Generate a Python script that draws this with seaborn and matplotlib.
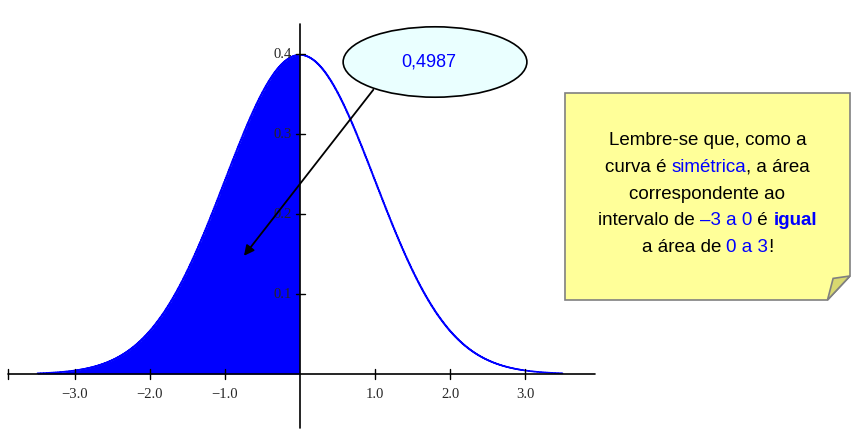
import numpy as np
import matplotlib.pyplot as plt
import seaborn as sns
from matplotlib.patches import Ellipse, Polygon
from matplotlib.offsetbox import TextArea, HPacker, VPacker, AnchoredOffsetbox

sns.set_theme(style="white")
plt.rcParams['font.family'] = ['Liberation Sans', 'DejaVu Sans']

# standard normal density
mean, sd = 0.0, 1.0
x_lo, x_hi = -3.5, 3.5
x_ticks = [-3.0, -2.0, -1.0, 1.0, 2.0, 3.0]
x_tick_labels = ['\u22123.0', '\u22122.0', '\u22121.0', '1.0', '2.0', '3.0']
y_ticks = [0.1, 0.2, 0.3, 0.4]
y_tick_labels = ['0.1', '0.2', '0.3', '0.4']
area_label = '0,4987'

xs = np.linspace(x_lo, x_hi, 700)
ys = np.exp(-0.5 * ((xs - mean) / sd) ** 2) / (sd * np.sqrt(2 * np.pi))

fig = plt.figure(figsize=(8.56, 4.29), dpi=100)
ax = fig.add_axes([0, 0, 1, 1])
ax.set_xlim(-4.0, 7.413)
ax.set_ylim(-0.06875, 0.4675)
ax.axis('off')

sns.lineplot(x=xs, y=ys, color='#0000ff', lw=1.2, ax=ax, drawstyle='steps-mid')
left = xs <= 0
ax.fill_between(xs[left], 0, ys[left], color='#0000ff', step='mid', lw=0)

# axes
ax.plot([-3.89, 3.93], [0, 0], color='black', lw=1.2)
ax.plot([0, 0], [-0.0675, 0.4375], color='black', lw=1.2)
for t, lab in zip(x_ticks, x_tick_labels):
    ax.plot([t, t], [-0.006, 0.006], color='black', lw=1)
    ax.text(t, -0.018, lab, ha='center', va='top', fontsize=10.5, family='Liberation Serif')
ax.plot([-3.89, -3.89], [-0.006, 0.006], color='black', lw=1)
for t, lab in zip(y_ticks, y_tick_labels):
    ax.plot([-0.06, 0.06], [t, t], color='black', lw=1)
    ax.text(-0.11, t, lab, ha='right', va='center', fontsize=10.5, family='Liberation Serif')

# callout ellipse and arrow
ax.add_patch(Ellipse((1.8, 0.39), 2.45, 0.088, facecolor='#eaffff', edgecolor='black', lw=1.2, zorder=5))
ax.text(1.72, 0.39, area_label, color='#0000ff', fontsize=13, ha='center', va='center', zorder=6)
ax.annotate('', xy=(-0.77, 0.145), xytext=(1.0, 0.358),
            arrowprops=dict(arrowstyle='-|>', color='black', lw=1.3, mutation_scale=15), zorder=6)

# note with folded corner
x0, x1 = 3.533, 7.333
y0, y1 = (374 - 300) / 800, (374 - 93) / 800
f = 0.3
ax.add_patch(Polygon([(x0, y0), (x0, y1), (x1, y1), (x1, y0 + f * 0.1), (x1 - f, y0)],
                     closed=True, facecolor='#ffff99', edgecolor='#808080', lw=1.2, zorder=5))
ax.add_patch(Polygon([(x1, y0 + f * 0.1), (x1 - f, y0), (x1 - f * 0.75, y0 + f * 0.1 * 0.9)],
                     closed=True, facecolor='#d8d870', edgecolor='#808080', lw=1.2, zorder=6))

blue = '#0000ff'
lines = [
    [('Lembre-se que, como a', 'black', 'normal')],
    [('curva é ', 'black', 'normal'), ('simétrica', blue, 'normal'), (', a área', 'black', 'normal')],
    [('correspondente ao', 'black', 'normal')],
    [('intervalo de ', 'black', 'normal'), ('\u20133 a 0', blue, 'normal'), (' é ', 'black', 'normal'), ('igual', blue, 'bold')],
    [('a área de ', 'black', 'normal'), ('0 a 3', blue, 'normal'), ('!', 'black', 'normal')],
]
rows = []
for parts in lines:
    boxes = [TextArea(s, textprops=dict(color=c, fontsize=13.5, fontweight=w)) for s, c, w in parts]
    rows.append(HPacker(children=boxes, pad=0, sep=0))
vbox = VPacker(children=rows, align='center', pad=0, sep=7)
ab = AnchoredOffsetbox(loc='center', child=vbox, frameon=False,
                       bbox_to_anchor=((x0 + x1) / 2, (y0 + y1) / 2 + 0.003),
                       bbox_transform=ax.transData)
ab.set_zorder(7)
ax.add_artist(ab)

fig.savefig('out.png', dpi=100)
